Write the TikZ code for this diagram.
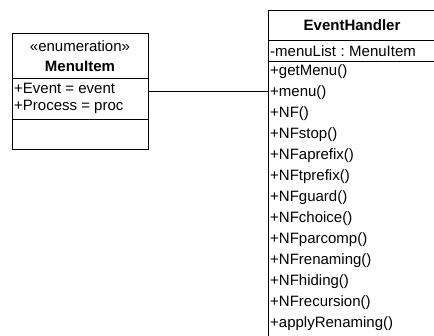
\documentclass[tikz,border=0pt]{standalone}
\usepackage{fontspec}
\setmainfont{Liberation Sans}
\begin{document}
\begin{tikzpicture}[x=1pt,y=-1pt,
  classbox/.style={draw=black,line width=0.9pt,fill=white,inner sep=0pt,outer sep=0pt},
  rule/.style={draw=black,line width=0.9pt},
  member/.style={anchor=west,inner sep=0pt,font=\fontsize{15}{18}\selectfont},
  title/.style={inner sep=0pt,font=\fontsize{15}{18}\selectfont\bfseries},
  stereo/.style={inner sep=0pt,font=\fontsize{15}{18}\selectfont},
  assoc/.style={draw=black,line width=0.7pt}]
\useasboundingbox (0,0) rectangle (434,336);
\clip (0,0) rectangle (434,336);
\fill[white] (0,0) rectangle (434,336);

% enumeration MenuItem
\node[classbox,minimum width=136pt,minimum height=116pt] (menuitem) at (80,91) {};
\draw[rule] (menuitem.west |- 0,78) -- (menuitem.east |- 0,78);
\draw[rule] (menuitem.west |- 0,119) -- (menuitem.east |- 0,119);
\node[stereo] (mi-st) at (80,46) {«enumeration»};
\node[title] (mi-name) at (80,66) {MenuItem};
\node[member] (mi-a1) at (14,88) {+Event = event};
\node[member] (mi-a2) at (14,107) {+Process = proc};

% class EventHandler
\node[classbox,minimum width=168pt,minimum height=340pt] (handler) at (352,180) {};
\draw[rule] (handler.west |- 0,40) -- (handler.east |- 0,40);
\draw[rule] (handler.west |- 0,61) -- (handler.east |- 0,61);
\node[title] (eh-name) at (352,25) {EventHandler};
\node[member] (eh-a1) at (270,51) {-menuList\hspace{0.3em}:\hspace{0.3em}MenuItem};
\foreach \op [count=\i from 0] in {getMenu,menu,NF,NFstop,NFaprefix,NFtprefix,NFguard,NFchoice,NFparcomp,NFrenaming,NFhiding,NFrecursion,applyRenaming}
  \node[member] (eh-op\i) at (270,{72+21*\i}) {+\op()};

% association
\draw[assoc] (menuitem.east) -- (menuitem.east -| handler.west);
\end{tikzpicture}
\end{document}
